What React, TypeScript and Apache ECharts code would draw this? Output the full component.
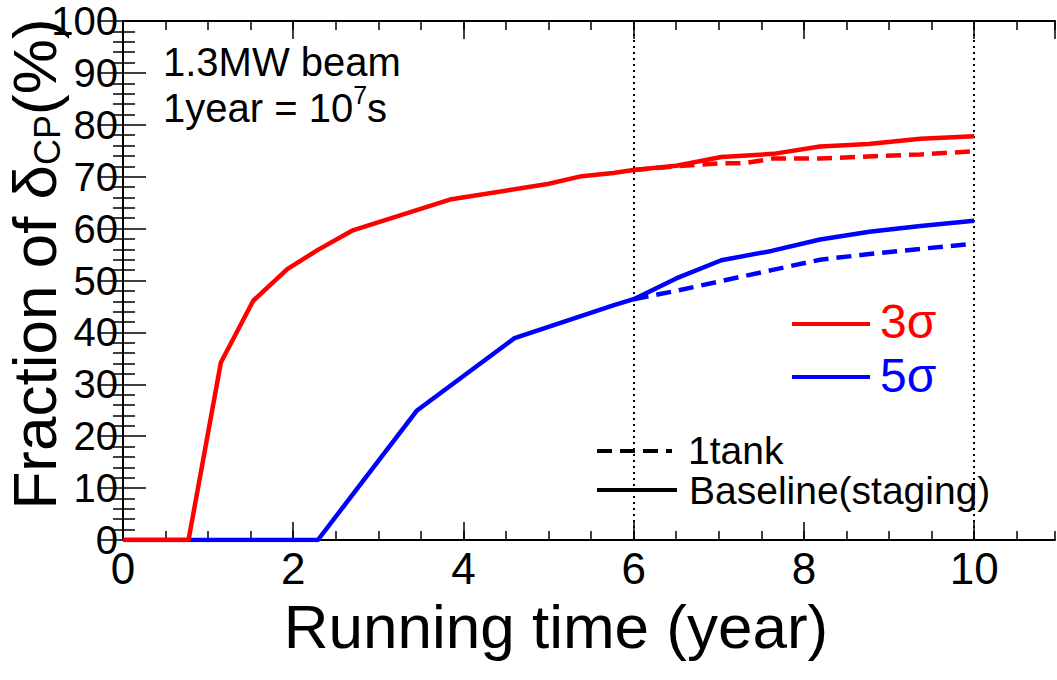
import React, { useEffect, useRef } from "react";
import * as echarts from "echarts";

// ---- data ----
const redBaselineX = [0, 0.77, 1.15, 1.53, 1.93, 2.29, 2.69, 3.84, 4.99, 5.39, 5.76, 6.0, 6.5, 7.03, 7.64, 8.19, 8.76, 9.37, 10];
const redBaselineY = [0, 0, 34.2, 46.1, 52.2, 55.9, 59.6, 65.6, 68.6, 70.1, 70.7, 71.3, 72.1, 73.8, 74.4, 75.8, 76.3, 77.3, 77.8];

const red1tankX = [6.0, 6.5, 7.03, 7.3, 7.64, 8.19, 8.76, 9.37, 10];
const red1tankY = [71.3, 72.0, 72.6, 72.6, 73.5, 73.5, 73.9, 74.3, 74.9];

const blueBaselineX = [0, 2.29, 3.45, 4.6, 5.76, 6.0, 6.5, 7.03, 7.62, 8.19, 8.77, 9.37, 10];
const blueBaselineY = [0, 0, 24.9, 38.9, 45.2, 46.4, 50.4, 53.9, 55.7, 57.9, 59.4, 60.5, 61.5];

const blue1tankX = [6.0, 6.5, 7.03, 7.62, 8.19, 8.77, 9.37, 10];
const blue1tankY = [46.4, 48.0, 49.9, 52.0, 54.0, 55.1, 56.1, 57.1];

const verticalMarkers = [6, 10];

const xMin = 0;
const xMax = 10.95;
const yMin = 0;
const yMax = 100;

const FONT = "'Liberation Sans', Arial, Helvetica, sans-serif";
const RED = "#ff0000";
const BLUE = "#0000ff";

function pairs(xs: number[], ys: number[]) {
  return xs.map((x, i) => [x, ys[i]]);
}

export default function App() {
  const ref = useRef<HTMLDivElement>(null);

  useEffect(() => {
    if (!ref.current) return;
    const chart = echarts.init(ref.current, undefined, { renderer: "svg" });

    const axisLine = { show: true, lineStyle: { color: "#000", width: 2 } };

    const xCommon = {
      type: "value" as const,
      min: xMin,
      max: xMax,
      splitLine: { show: false },
    };
    const yCommon = {
      type: "value" as const,
      min: yMin,
      max: yMax,
      interval: 10,
      splitLine: { show: false },
    };

    const option: any = {
      animation: false,
      backgroundColor: "#fff",
      grid: {
        left: 123,
        right: 2,
        top: 21,
        bottom: 140,
        containLabel: false,
        outerBoundsMode: "none",
      },
      xAxis: [
        {
          ...xCommon,
          position: "bottom",
          interval: 2,
          axisLine,
          axisTick: { show: true, inside: true, length: 18, lineStyle: { color: "#000", width: 1.5 } },
          axisLabel: {
            show: true,
            showMaxLabel: false,
            margin: 6,
            color: "#000",
            fontSize: 44,
            fontFamily: FONT,
          },
        },
        {
          ...xCommon,
          position: "bottom",
          interval: 0.5,
          axisLine: { show: false },
          axisTick: { show: true, inside: true, length: 9, lineStyle: { color: "#000", width: 1.5 } },
          axisLabel: { show: false },
        },
        {
          ...xCommon,
          position: "top",
          interval: 2,
          axisLine,
          axisTick: { show: true, inside: true, length: 18, lineStyle: { color: "#000", width: 1.5 } },
          axisLabel: { show: false },
        },
        {
          ...xCommon,
          position: "top",
          interval: 0.5,
          axisLine: { show: false },
          axisTick: { show: true, inside: true, length: 9, lineStyle: { color: "#000", width: 1.5 } },
          axisLabel: { show: false },
        },
      ],
      yAxis: [
        {
          ...yCommon,
          position: "left",
          axisLine,
          axisTick: { show: true, inside: true, length: 23, lineStyle: { color: "#000", width: 1.5 } },
          minorTick: { show: true, splitNumber: 5, length: 12, lineStyle: { color: "#000", width: 1.5 } },
          axisLabel: {
            show: true,
            margin: 5,
            color: "#000",
            fontSize: 40,
            fontFamily: FONT,
          },
        },
        {
          ...yCommon,
          position: "right",
          axisLine,
          axisTick: { show: true, inside: true, length: 23, lineStyle: { color: "#000", width: 1.5 } },
          minorTick: { show: true, splitNumber: 5, length: 10, lineStyle: { color: "#000", width: 1.5 } },
          axisLabel: { show: false },
        },
      ],
      series: [
        {
          name: "5σ 1tank",
          type: "line",
          xAxisIndex: 0,
          yAxisIndex: 0,
          data: pairs(blue1tankX, blue1tankY),
          showSymbol: false,
          lineStyle: { color: BLUE, width: 4.5, type: [15, 8] },
          z: 2,
        },
        {
          name: "5σ Baseline",
          type: "line",
          xAxisIndex: 0,
          yAxisIndex: 0,
          data: pairs(blueBaselineX, blueBaselineY),
          showSymbol: false,
          lineStyle: { color: BLUE, width: 4.5 },
          z: 3,
        },
        {
          name: "3σ 1tank",
          type: "line",
          xAxisIndex: 0,
          yAxisIndex: 0,
          data: pairs(red1tankX, red1tankY),
          showSymbol: false,
          lineStyle: { color: RED, width: 4.5, type: [15, 8] },
          z: 4,
        },
        {
          name: "3σ Baseline",
          type: "line",
          xAxisIndex: 0,
          yAxisIndex: 0,
          data: pairs(redBaselineX, redBaselineY),
          showSymbol: false,
          lineStyle: { color: RED, width: 4.5 },
          z: 5,
          markLine: {
            silent: true,
            symbol: "none",
            label: { show: false },
            lineStyle: { color: "#000", width: 2, type: [2, 4] },
            data: verticalMarkers.map((v) => ({ xAxis: v })),
            z: 1,
          },
        },
      ],
      graphic: [
        // beam annotation
        {
          type: "text",
          x: 163,
          y: 62,
          style: { text: "1.3MW beam", font: `40px ${FONT}`, fill: "#000", verticalAlign: "middle" },
        },
        {
          type: "text",
          x: 163,
          y: 105,
          style: {
            text: "{a|1year = 10}{s|7}{a|s}",
            fill: "#000",
            verticalAlign: "middle",
            rich: {
              a: { fontSize: 40, fontFamily: FONT, lineHeight: 46, verticalAlign: "bottom" },
              s: { fontSize: 25, fontFamily: FONT, lineHeight: 46, verticalAlign: "top" },
            },
          },
        },
        // sigma legend
        { type: "line", shape: { x1: 792, y1: 324, x2: 870, y2: 324 }, style: { stroke: RED, lineWidth: 4 } },
        {
          type: "text",
          x: 880,
          y: 321,
          style: { text: "3σ", font: `48px ${FONT}`, fill: RED, verticalAlign: "middle" },
        },
        { type: "line", shape: { x1: 792, y1: 377, x2: 870, y2: 377 }, style: { stroke: BLUE, lineWidth: 4 } },
        {
          type: "text",
          x: 880,
          y: 375,
          style: { text: "5σ", font: `48px ${FONT}`, fill: BLUE, verticalAlign: "middle" },
        },
        // style legend
        {
          type: "line",
          shape: { x1: 597, y1: 451, x2: 672, y2: 451 },
          style: { stroke: "#000", lineWidth: 4, lineDash: [15, 8] },
        },
        {
          type: "text",
          x: 688,
          y: 450,
          style: { text: "1tank", font: `39px ${FONT}`, fill: "#000", verticalAlign: "middle" },
        },
        { type: "line", shape: { x1: 597, y1: 490, x2: 677, y2: 490 }, style: { stroke: "#000", lineWidth: 4 } },
        {
          type: "text",
          x: 689,
          y: 490,
          style: { text: "Baseline(staging)", font: `39px ${FONT}`, fill: "#000", verticalAlign: "middle" },
        },
        // axis titles
        {
          type: "text",
          x: 556,
          y: 626,
          style: {
            text: "Running time (year)",
            font: `62px ${FONT}`,
            fill: "#000",
            align: "center",
            verticalAlign: "middle",
          },
        },
        {
          type: "text",
          x: 29,
          y: 264,
          rotation: Math.PI / 2,
          style: {
            text: "{a|Fraction of }{d|δ}{b|CP}{a|(%)}",
            fill: "#000",
            align: "center",
            verticalAlign: "middle",
            rich: {
              a: { fontSize: 62, fontFamily: FONT, lineHeight: 72, verticalAlign: "bottom" },
              d: { fontSize: 62, fontFamily: FONT, lineHeight: 72, verticalAlign: "bottom" },
              b: { fontSize: 36, fontFamily: FONT, lineHeight: 62, verticalAlign: "bottom" },
            },
          },
        },
      ],
    };

    chart.setOption(option);
    return () => {
      chart.dispose();
    };
  }, []);

  return (
    <div
      ref={ref}
      style={{ position: "fixed", left: 0, top: 0, width: 1057, height: 680, background: "#fff" }}
    />
  );
}
